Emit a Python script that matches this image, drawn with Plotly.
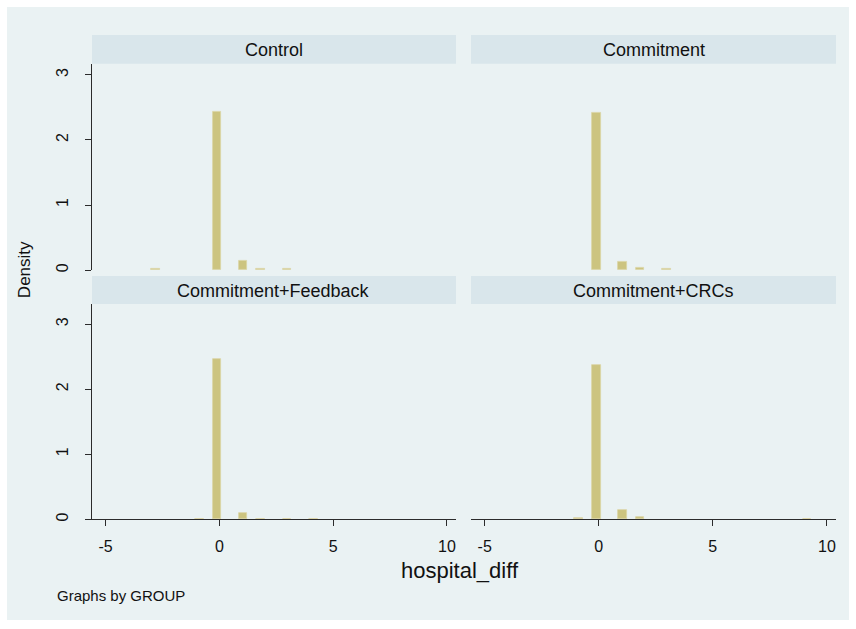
import plotly.graph_objects as go

# ---- data ----
groups = ["Control", "Commitment", "Commitment+Feedback", "Commitment+CRCs"]
bin_width = 0.385
# bin centres (hospital_diff) and densities per group
control_x = [-2.81, -0.11, 1.04, 1.81, 2.97]
control_y = [0.015, 2.43, 0.14, 0.015, 0.015]
commit_x = [-0.11, 1.04, 1.81, 2.97]
commit_y = [2.42, 0.13, 0.03, 0.015]
feedback_x = [-0.88, -0.11, 1.04, 1.81, 2.97, 4.12]
feedback_y = [0.01, 2.47, 0.10, 0.01, 0.01, 0.01]
crcs_x = [-0.88, -0.11, 1.04, 1.81, 9.13]
crcs_y = [0.02, 2.37, 0.15, 0.04, 0.01]
x_ticks = [-5, 0, 5, 10]
x_tick_text = ["-5", "0", "5", "10"]
y_ticks = [0, 1, 2, 3]

W, H = 856, 629
def px(x):
    return x / W
def py(y):
    return 1 - y / H

BAR = "rgb(204,196,128)"
BAR_LINE = "rgb(218,212,165)"
BG = "#EAF2F3"
HDR = "#D9E6EB"
FONT = "Liberation Sans Narrow, Liberation Sans, Arial, sans-serif"

fig = go.Figure()
series = [(control_x, control_y), (commit_x, commit_y), (feedback_x, feedback_y), (crcs_x, crcs_y)]
for i, (xs, ys) in enumerate(series):
    fig.add_trace(go.Bar(
        x=xs, y=ys, width=[bin_width] * len(xs),
        marker=dict(color=BAR, line=dict(color=BAR_LINE, width=0.8)),
        xaxis="x" if i == 0 else f"x{i+1}",
        yaxis="y" if i == 0 else f"y{i+1}",
        showlegend=False, hoverinfo="x+y",
    ))

xdom_l = [px(92), px(456)]
xdom_r = [px(471), px(836)]
ydom_t = [py(271), py(64)]
ydom_b = [py(521), py(305)]
xr = [-5.6, 10.4]
yr_t = [0, 3.17]
yr_b = [0, 3.31]

def xaxis(dom, anchor, bottom):
    d = dict(domain=dom, range=xr, anchor=anchor, showgrid=False, zeroline=False,
             tickvals=x_ticks, ticktext=x_tick_text, fixedrange=True)
    if bottom:
        d.update(showline=True, linecolor="#2b2b2b", linewidth=1.2, ticks="outside",
                 ticklen=6, tickcolor="#2b2b2b", showticklabels=True, ticklabelstandoff=6,
                 tickfont=dict(family=FONT, size=16, color="#111"))
    else:
        d.update(showline=False, ticks="", showticklabels=False)
    return d

def yaxis(dom, rng, anchor, left):
    d = dict(domain=dom, range=rng, anchor=anchor, showgrid=True, gridcolor=BG, gridwidth=1.2,
             zeroline=False, tickvals=y_ticks, fixedrange=True)
    if left:
        d.update(showline=True, linecolor="#2b2b2b", linewidth=1.2, ticks="outside",
                 ticklen=6, tickcolor="#2b2b2b", showticklabels=True, tickangle=-90,
                 ticklabelstandoff=11,
                 tickfont=dict(family=FONT, size=16, color="#111"))
    else:
        d.update(showline=False, ticks="", showticklabels=False)
    return d

fig.update_layout(
    width=W, height=H, margin=dict(l=0, r=0, t=0, b=0),
    paper_bgcolor="white", plot_bgcolor="white",
    bargap=0,
    xaxis=xaxis(xdom_l, "y", False), yaxis=yaxis(ydom_t, yr_t, "x", True),
    xaxis2=xaxis(xdom_r, "y2", False), yaxis2=yaxis(ydom_t, yr_t, "x2", False),
    xaxis3=xaxis(xdom_l, "y3", True), yaxis3=yaxis(ydom_b, yr_b, "x3", True),
    xaxis4=xaxis(xdom_r, "y4", True), yaxis4=yaxis(ydom_b, yr_b, "x4", False),
    font=dict(family=FONT, color="#111"),
)

shapes = [dict(type="rect", xref="paper", yref="paper", x0=px(7), x1=px(849), y0=py(622), y1=py(7),
               fillcolor=BG, line=dict(width=0), layer="below")]
annotations = []
hdrs = [(xdom_l, 35, 64), (xdom_r, 35, 64), (xdom_l, 277, 305), (xdom_r, 277, 305)]
for g, (xd, t, b) in zip(groups, hdrs):
    shapes.append(dict(type="rect", xref="paper", yref="paper", x0=xd[0], x1=xd[1], y0=py(b), y1=py(t),
                       fillcolor=HDR, line=dict(width=0), layer="below"))
    annotations.append(dict(xref="paper", yref="paper", x=(xd[0] + xd[1]) / 2, y=py((t + b) / 2 + 1),
                            text=g, showarrow=False, xanchor="center", yanchor="middle",
                            font=dict(family=FONT, size=18, color="#111")))

annotations += [
    dict(xref="paper", yref="paper", x=px(460), y=py(572), text="hospital_diff", showarrow=False,
         xanchor="center", yanchor="middle", font=dict(family=FONT, size=22, color="#111")),
    dict(xref="paper", yref="paper", x=px(24), y=py(271), text="Density", showarrow=False, textangle=-90,
         xanchor="center", yanchor="middle", font=dict(family=FONT, size=17, color="#111")),
    dict(xref="paper", yref="paper", x=px(55), y=py(597), text="Graphs by GROUP", showarrow=False,
         xanchor="left", yanchor="middle", font=dict(family=FONT, size=15, color="#111")),
]
fig.update_layout(shapes=shapes, annotations=annotations)

fig.write_html("out.html", config={"displayModeBar": False},
               post_script="document.body.style.margin='0px';")
